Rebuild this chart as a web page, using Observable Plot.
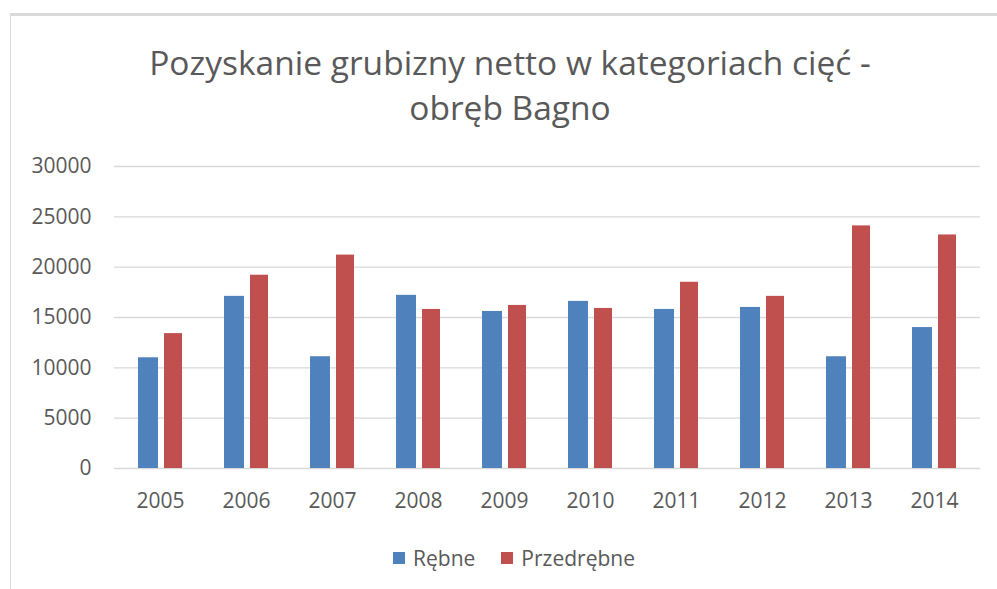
<!DOCTYPE html>
<html>
<head>
<meta charset="utf-8">
<script src="https://cdn.jsdelivr.net/npm/d3@7"></script>
<script src="https://cdn.jsdelivr.net/npm/@observablehq/plot@0.6"></script>
<style>
  html, body { margin: 0; padding: 0; background: #fff; }
  body { width: 997px; height: 589px; position: relative; overflow: hidden; font-family: "Open Sans", sans-serif; }
  #frame { position: absolute; left: 10px; top: 13px; right: -5px; bottom: -5px; border-top: 3px solid #d9d9d9; border-left: 1.5px solid #dcdcdc; }
  #title { position: absolute; left: 10px; width: 1000px; top: 40px; text-align: center; color: #595959; font-size: 33.5px; }
  #title div { height: 45px; line-height: 45px; white-space: nowrap; }
  #chart { position: absolute; left: 0; top: 140px; }
  #legend { position: absolute; left: 0; width: 1028px; top: 545px; display: flex; justify-content: center; gap: 26px; color: #595959; font-size: 21px; line-height: 26px; }
  .item { display: flex; align-items: center; gap: 8px; }
  .sw { width: 12px; height: 12px; display: inline-block; }
</style>
</head>
<body>
<div id="frame"></div>
<div id="title"><div>Pozyskanie grubizny netto w kategoriach cięć -</div><div>obręb Bagno</div></div>
<div id="chart"></div>
<div id="legend"></div>
<script>
const years = ["2005","2006","2007","2008","2009","2010","2011","2012","2013","2014"];
const rebne = [11000, 17100, 11100, 17200, 15600, 16600, 15800, 16000, 11100, 14000];
const przedrebne = [13400, 19200, 21200, 15800, 16200, 15900, 18500, 17100, 24100, 23200];
const yTicks = [0, 5000, 10000, 15000, 20000, 25000, 30000];
const seriesNames = ["Rębne", "Przedrębne"];
const seriesColors = ["#4F81BD", "#C0504D"];

const data = years.map((y, i) => ({year: y, rebne: rebne[i], przedrebne: przedrebne[i]}));

const chart = Plot.plot({
  width: 997,
  height: 378,
  marginLeft: 114,
  marginRight: 17,
  marginTop: 26,
  marginBottom: 50,
  style: {fontFamily: "Open Sans", background: "transparent"},
  x: {domain: years, paddingInner: 0.492, paddingOuter: 0.246, label: null},
  y: {domain: [0, 30000], label: null},
  marks: [
    Plot.ruleY(yTicks, {stroke: "#d9d9d9", strokeWidth: 1.3}),
    Plot.barY(data, {x: "year", y: "rebne", fill: seriesColors[0], insetRight: 24}),
    Plot.barY(data, {x: "year", y: "przedrebne", fill: seriesColors[1], insetLeft: 26}),
    Plot.axisY(yTicks, {tickSize: 0, tickPadding: 23, fontSize: 21, fill: "#595959", label: null, tickFormat: d => String(d)}),
    Plot.axisX({tickSize: 0, tickPadding: 25, fontSize: 21, fill: "#595959", label: null})
  ]
});
document.getElementById("chart").appendChild(chart);

const legend = document.getElementById("legend");
seriesNames.forEach((name, i) => {
  const item = document.createElement("div");
  item.className = "item";
  const sw = document.createElement("span");
  sw.className = "sw";
  sw.style.background = seriesColors[i];
  const t = document.createElement("span");
  t.textContent = name;
  item.appendChild(sw);
  item.appendChild(t);
  legend.appendChild(item);
});
</script>
</body>
</html>
